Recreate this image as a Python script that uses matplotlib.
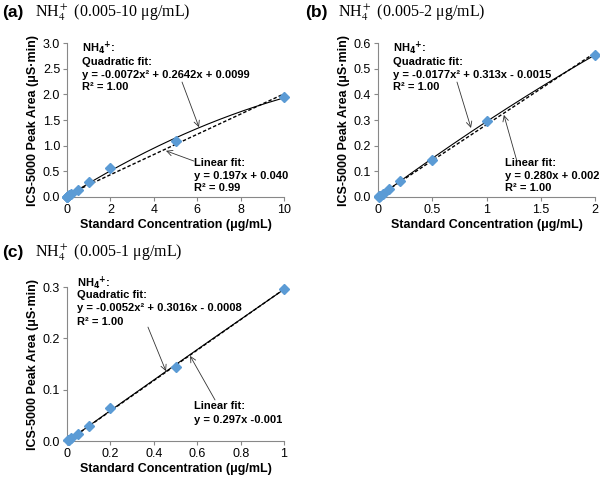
import numpy as np
import matplotlib
matplotlib.use("Agg")
import matplotlib.pyplot as plt

plt.rcParams['font.family'] = ['Liberation Sans', 'DejaVu Sans']

# data
conc_a = [0.005, 0.01, 0.02, 0.05, 0.1, 0.2, 0.5, 1, 2, 5, 10]
area_a = [0.001, 0.002, 0.005, 0.013, 0.030, 0.064, 0.145, 0.30, 0.56, 1.10, 1.94]
conc_b = [0.005, 0.01, 0.02, 0.05, 0.1, 0.2, 0.5, 1, 2]
area_b = [0.001, 0.002, 0.005, 0.013, 0.030, 0.064, 0.145, 0.297, 0.553]
conc_c = [0.005, 0.01, 0.02, 0.05, 0.1, 0.2, 0.5, 1]
area_c = [0.001, 0.002, 0.005, 0.013, 0.030, 0.064, 0.145, 0.296]

# fit coefficients from the labels
quad_a = [-0.0072, 0.2642, 0.0099]
lin_a = [0.197, 0.040]
quad_b = [-0.0177, 0.313, -0.0015]
lin_b = [0.280, 0.002]
quad_c = [-0.0052, 0.3016, -0.0008]
lin_c = [0.297, -0.001]

W, H = 600, 478


def fx(px):
    return px / W


def fy(py):
    return 1 - py / H


panels = [
    dict(tag='(a)', rng='0.005-10', x=conc_a, y=area_a, q=quad_a, l=lin_a,
         pos=[0.1117, 0.5879, 0.3617, 0.322], xmax=10, ymax=3.0,
         xt=[0, 2, 4, 6, 8, 10], xtl=['0', '2', '4', '6', '8', '10'],
         yt=np.arange(0, 3.01, 0.5),
         qlines=['Quadratic fit:', 'y = -0.0072x² + 0.2642x + 0.0099', 'R² = 1.00'],
         llines=['Linear fit:', 'y = 0.197x + 0.040', 'R² = 0.99'],
         qa=((6.08, 1.36), (5.3, 2.24)), la=((4.56, 0.90), (5.85, 0.70)),
         title=(2, 13), qx=82, qy=[48, 62, 75, 87], lx=194, ly=[163, 176, 188]),
    dict(tag='(b)', rng='0.005-2', x=conc_b, y=area_b, q=quad_b, l=lin_b,
         pos=[0.63, 0.5879, 0.3617, 0.322], xmax=2, ymax=0.6,
         xt=[0, 0.5, 1, 1.5, 2], xtl=['0', '0.5', '1', '1.5', '2'],
         yt=np.arange(0, 0.61, 0.1),
         qlines=['Quadratic fit:', 'y = -0.0177x² + 0.313x - 0.0015', 'R² = 1.00'],
         llines=['Linear fit:', 'y = 0.280x + 0.002', 'R² = 1.00'],
         qa=((0.857, 0.269), (0.728, 0.448)), la=((1.16, 0.32), (1.28, 0.14)),
         title=(305, 13), qx=393, qy=[48, 62, 75, 87], lx=505, ly=[163, 176, 188]),
    dict(tag='(c)', rng='0.005-1', x=conc_c, y=area_c, q=quad_c, l=lin_c,
         pos=[0.1117, 0.0774, 0.3617, 0.322], xmax=1, ymax=0.3,
         xt=[0, 0.2, 0.4, 0.6, 0.8, 1], xtl=['0', '0.2', '0.4', '0.6', '0.8', '1'],
         yt=np.arange(0, 0.31, 0.1),
         qlines=['Quadratic fit:', 'y = -0.0052x² + 0.3016x - 0.0008', 'R² = 1.00'],
         llines=['Linear fit:', 'y = 0.297x -0.001'],
         qa=((0.456, 0.136), (0.373, 0.222)), la=((0.567, 0.166), (0.682, 0.080)),
         title=(2, 253), qx=77, qy=[283, 295, 308, 322], lx=194, ly=[406, 420]),
]

fig = plt.figure(figsize=(6, 4.78), dpi=100)

for p in panels:
    ax = fig.add_axes(p['pos'])
    xx = np.linspace(0, p['xmax'], 200)
    ax.plot(xx, np.polyval(p['q'], xx), color='black', lw=0.8)
    ax.plot(xx, np.polyval(p['l'], xx), color='black', lw=1.0, ls=(0, (2.5, 1.5)))
    ax.plot(p['x'], p['y'], 'D', color='#5b9bd5', ms=5.2, mec='#5b9bd5', clip_on=False, zorder=3)
    ax.set_xlim(0, p['xmax'])
    ax.set_ylim(0, p['ymax'])
    ax.set_xticks(p['xt'])
    ax.set_xticklabels(p['xtl'])
    ax.set_yticks(p['yt'])
    ax.set_yticklabels(['%.1f' % v for v in p['yt']])
    for s in ['top', 'right']:
        ax.spines[s].set_visible(False)
    for s in ['left', 'bottom']:
        ax.spines[s].set_color('#888888')
        ax.spines[s].set_linewidth(0.8)
    ax.tick_params(labelsize=9, length=3, width=0.8, color='#888888', pad=2)
    ax.set_xlabel('Standard Concentration (μg/mL)', fontsize=9, fontweight='bold', labelpad=2)
    ax.set_ylabel('ICS-5000 Peak Area (μS·min)', fontsize=9, fontweight='bold', labelpad=3)

    tx, ty = p['title']
    fig.text(fx(tx), fy(ty), p['tag'], fontsize=12.5, fontweight='bold', va='center')
    fig.text(fx(tx + 33), fy(ty), 'NH$_4^+$ (' + p['rng'] + ' μg/mL)',
             fontsize=11.5, family='Liberation Serif', math_fontfamily='stix', va='center')

    fig.text(fx(p['qx']), fy(p['qy'][0]), r'NH$_\mathbf{4}$$^\mathbf{+}$:', fontsize=8,
             fontweight='bold', va='center')
    for s, yy in zip(p['qlines'], p['qy'][1:]):
        fig.text(fx(p['qx']), fy(yy), s, fontsize=8, fontweight='bold', va='center')
    for s, yy in zip(p['llines'], p['ly']):
        fig.text(fx(p['lx']), fy(yy), s, fontsize=8, fontweight='bold', va='center')

    ax.annotate('', xy=p['qa'][0], xytext=p['qa'][1],
                arrowprops=dict(arrowstyle='->', lw=0.6, color='#333333', shrinkA=0, shrinkB=0))
    ax.annotate('', xy=p['la'][0], xytext=p['la'][1],
                arrowprops=dict(arrowstyle='->', lw=0.6, color='#333333', shrinkA=0, shrinkB=0))

fig.savefig('out.png', dpi=100)
